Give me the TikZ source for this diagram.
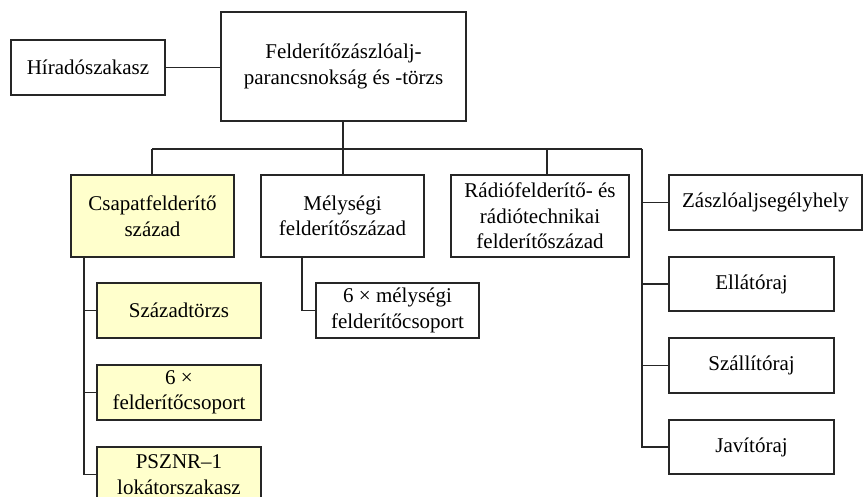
\documentclass[tikz,border=0pt]{standalone}
\usepackage{fontspec}
\setmainfont{Liberation Serif}
\definecolor{boxyellow}{RGB}{255,255,204}
\begin{document}
\begin{tikzpicture}[x=1pt,y=-1pt,
  box/.style={draw=black!85,line width=1.3pt,fill=white,inner sep=0pt,align=center,
    font=\fontsize{21}{25.5}\selectfont},
  ybox/.style={box,fill=boxyellow},
  conn/.style={draw=black!85,line width=1.3pt}]
\useasboundingbox (0,0) rectangle (864,497);
\clip (0,0) rectangle (864,497);
\node[box,minimum width=154pt,minimum height=55pt] (hirado) at (88,67.5) {Híradószakasz};
\node[box,minimum width=245pt,minimum height=109pt] (top) at (343.5,66.5) {Felderítőzászlóalj-\\parancsnokság és -törzs};
\node[ybox,minimum width=163pt,minimum height=82pt] (csapat) at (152.5,216) {Csapatfelderítő\\század};
\node[box,minimum width=163pt,minimum height=82pt] (melys) at (342.5,216) {Mélységi\\felderítőszázad};
\node[box,minimum width=178pt,minimum height=82pt] (radio) at (540,216) {Rádiófelderítő- és\\rádiótechnikai\\felderítőszázad};
\node[box,minimum width=193pt,minimum height=55pt] (zaszlo) at (765.5,202.5) {Zászlóaljsegélyhely};
\node[box,minimum width=165pt,minimum height=54pt] (ellato) at (751.5,284) {Ellátóraj};
\node[box,minimum width=165pt,minimum height=55pt] (szallito) at (751.5,365.5) {Szállítóraj};
\node[box,minimum width=165pt,minimum height=54pt] (javito) at (751.5,447) {Javítóraj};
\node[box,minimum width=163pt,minimum height=55pt] (melycs) at (397.5,310.5) {6 × mélységi\\felderítőcsoport};
\node[ybox,minimum width=164pt,minimum height=55pt] (szt) at (179,310.5) {Századtörzs};
\node[ybox,minimum width=164pt,minimum height=55pt] (felcs) at (179,392.5) {6 ×\\felderítőcsoport};
\node[ybox,minimum width=164pt,minimum height=55pt] (psznr) at (179,474.5) {PSZNR–1\\lokátorszakasz};
\coordinate (busL) at (152,149);
\coordinate (busM) at (343,149);
\coordinate (busR) at (642,149);
\coordinate (radtop) at (547,149);
% connectors
\draw[conn] (hirado.east) -- (hirado.east -| top.west);
\draw[conn] (top.south -| busM) -- (busM);
\draw[conn] (busL) -- (busR);
\draw[conn] (busL) -- (busL |- csapat.north);
\draw[conn] (busM) -- (busM |- melys.north);
\draw[conn] (radtop) -- (radtop |- radio.north);
\draw[conn] (busR) -- (busR |- javito.west) -- (javito.west);
\draw[conn] (busR |- zaszlo.west) -- (zaszlo.west);
\draw[conn] (busR |- ellato.west) -- (ellato.west);
\draw[conn] (busR |- szallito.west) -- (szallito.west);
\coordinate (ctrunk) at (84,257);
\draw[conn] (ctrunk) -- (ctrunk |- psznr.west) -- (psznr.west);
\draw[conn] (ctrunk |- szt.west) -- (szt.west);
\draw[conn] (ctrunk |- felcs.west) -- (felcs.west);
\coordinate (mtrunk) at (302,257);
\draw[conn] (mtrunk) -- (mtrunk |- melycs.west) -- (melycs.west);
\end{tikzpicture}
\end{document}
